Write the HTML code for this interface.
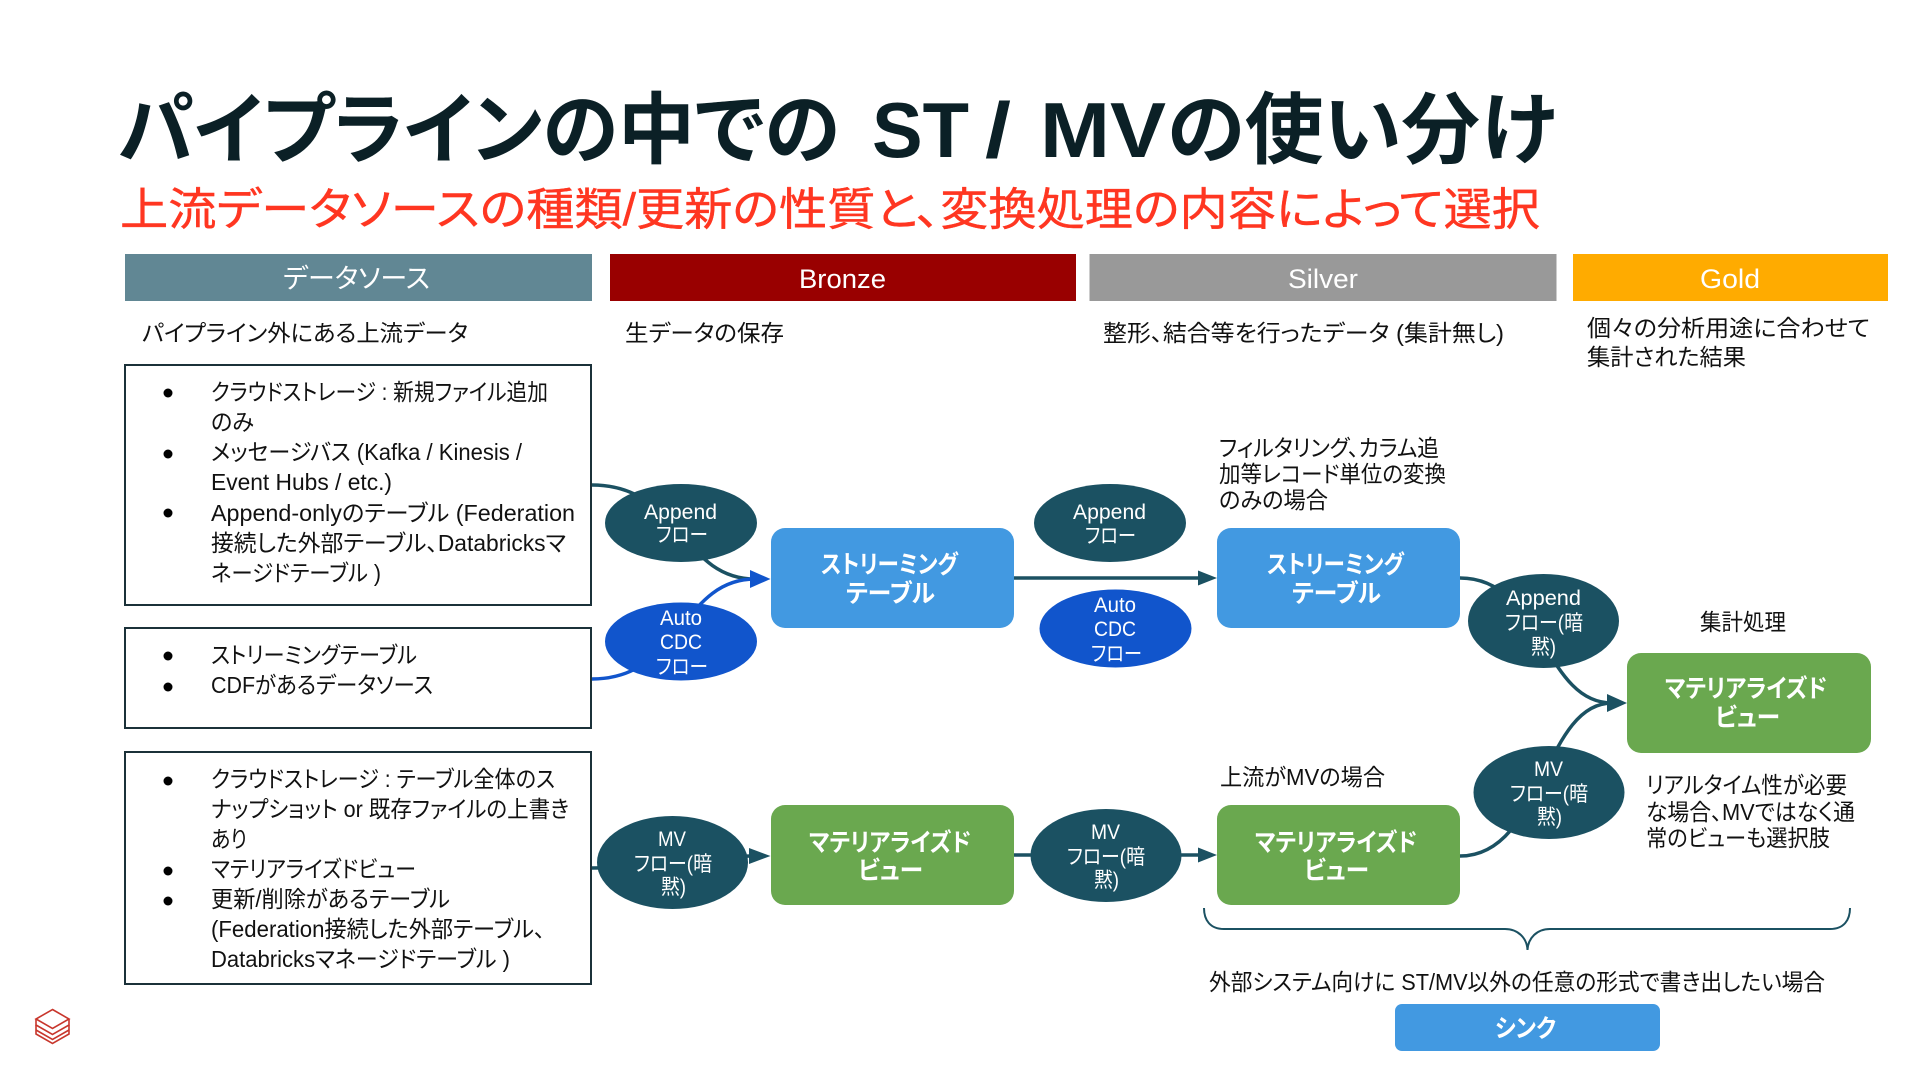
<!DOCTYPE html>
<html lang="ja"><head><meta charset="utf-8"><title>パイプラインの中での ST / MVの使い分け</title>
<style>
html,body{margin:0;padding:0;background:#fff;width:1918px;height:1080px;overflow:hidden}
svg{display:block}
text{font-family:"Liberation Sans","Noto Sans CJK JP",sans-serif;white-space:pre;font-feature-settings:"palt" 1}
.t{font-size:23px;fill:#111}
.h{font-size:27px;fill:#fff}
.e{font-size:21px;fill:#fff}
.b{font-size:25px;fill:#fff;font-weight:700}
.c{fill:none;stroke:#1b5162;stroke-width:3.5}
.box{fill:#fff;stroke:#1b3139;stroke-width:2}
</style></head><body>
<svg width="1918" height="1080" viewBox="0 0 1918 1080" xmlns="http://www.w3.org/2000/svg">
<rect width="1918" height="1080" fill="#fff"/>
<g font-size="78" font-weight="700" fill="#0b2026">
<text x="118" y="157" textLength="722" lengthAdjust="spacingAndGlyphs">パイプラインの中での</text>
<text x="872" y="157" textLength="97" lengthAdjust="spacingAndGlyphs">ST</text>
<text x="985" y="157" textLength="26" lengthAdjust="spacingAndGlyphs">/</text>
<text x="1040" y="157" textLength="126" lengthAdjust="spacingAndGlyphs">MV</text>
<text x="1167" y="157" textLength="389" lengthAdjust="spacingAndGlyphs">の使い分け</text>
</g>
<text x="120" y="225" font-size="45" fill="#ff3621" stroke="#ff3621" stroke-width=".4" textLength="1420" lengthAdjust="spacingAndGlyphs">上流データソースの種類/更新の性質と、変換処理の内容によって選択</text>

<rect x="125" y="254" width="467" height="47" fill="#618794"/>
<rect x="610" y="254" width="466" height="47" fill="#990000"/>
<rect x="1095" y="254" width="467" height="47" fill="#999999" transform="translate(-5.5 0)"/>
<rect x="1581" y="254" width="315" height="47" fill="#ffab00" transform="translate(-8 0)"/>
<text class="h" x="283" y="288" textLength="147" lengthAdjust="spacingAndGlyphs">データソース</text>
<text class="h" x="799" y="288" textLength="87" lengthAdjust="spacingAndGlyphs">Bronze</text>
<text class="h" x="1288" y="288" textLength="70" lengthAdjust="spacingAndGlyphs">Silver</text>
<text class="h" x="1700" y="288" textLength="60" lengthAdjust="spacingAndGlyphs">Gold</text>

<text class="t" x="142" y="341" textLength="326" lengthAdjust="spacingAndGlyphs">パイプライン外にある上流データ</text>
<text class="t" x="625" y="341" textLength="159" lengthAdjust="spacingAndGlyphs">生データの保存</text>
<text class="t" x="1103" y="341" textLength="401" lengthAdjust="spacingAndGlyphs">整形、結合等を行ったデータ (集計無し)</text>
<text class="t" x="1587" y="336" textLength="283" lengthAdjust="spacingAndGlyphs">個々の分析用途に合わせて</text>
<text class="t" x="1587" y="365" textLength="159" lengthAdjust="spacingAndGlyphs">集計された結果</text>

<!-- connectors -->
<path class="c" d="M592 485C681 485 681 579 755 579"/>
<path class="c" d="M592 679C681 679 681 579 755 579" style="stroke:#1155cc"/>
<path d="M770.5 579L750 570V588Z" fill="#1155cc"/>
<path class="c" d="M592 868C681 868 681 856 755 856"/>
<path d="M770.5 856L749 848V864Z" fill="#1b5162"/>
<path class="c" d="M1013 578H1200"/>
<path d="M1217 578L1198 570.5V585.5Z" fill="#1b5162"/>
<path class="c" d="M1013 855H1200"/>
<path d="M1217 855L1198 847.5V862.5Z" fill="#1b5162"/>
<path class="c" d="M1460 578C1543 578 1543 703 1612 703"/>
<path class="c" d="M1460 856C1543 856 1543 703 1612 703"/>
<path d="M1627 703L1607 694V712Z" fill="#1b5162"/>

<!-- source boxes -->
<rect class="box" x="125" y="365" width="466" height="240"/>
<rect class="box" x="125" y="633" width="466" height="100" transform="translate(0 -5)"/>
<rect class="box" x="125" y="758" width="466" height="232" transform="translate(0 -6)"/>

<g fill="#000">
<circle cx="168" cy="393" r="4.5"/><circle cx="168" cy="454" r="4.5"/><circle cx="168" cy="513" r="4.5"/>
<circle cx="168" cy="656" r="4.5"/><circle cx="168" cy="687" r="4.5"/>
<circle cx="168" cy="781" r="4.5"/><circle cx="168" cy="871" r="4.5"/><circle cx="168" cy="901" r="4.5"/>
</g>
<text class="t" x="211" y="400" textLength="337" lengthAdjust="spacingAndGlyphs">クラウドストレージ : 新規ファイル追加</text>
<text class="t" x="211" y="430" textLength="43" lengthAdjust="spacingAndGlyphs">のみ</text>
<text class="t" x="211" y="460" textLength="311" lengthAdjust="spacingAndGlyphs">メッセージバス (Kafka / Kinesis /</text>
<text class="t" x="211" y="490" textLength="181" lengthAdjust="spacingAndGlyphs">Event Hubs / etc.)</text>
<text class="t" x="211" y="521" textLength="364" lengthAdjust="spacingAndGlyphs">Append-onlyのテーブル (Federation</text>
<text class="t" x="211" y="551" textLength="355" lengthAdjust="spacingAndGlyphs">接続した外部テーブル、Databricksマ</text>
<text class="t" x="211" y="581" textLength="170" lengthAdjust="spacingAndGlyphs">ネージドテーブル )</text>
<text class="t" x="211" y="663" textLength="206" lengthAdjust="spacingAndGlyphs">ストリーミングテーブル</text>
<text class="t" x="211" y="693" textLength="222" lengthAdjust="spacingAndGlyphs">CDFがあるデータソース</text>
<text class="t" x="211" y="787" textLength="344" lengthAdjust="spacingAndGlyphs">クラウドストレージ : テーブル全体のス</text>
<text class="t" x="211" y="817" textLength="358" lengthAdjust="spacingAndGlyphs">ナップショット or 既存ファイルの上書き</text>
<text class="t" x="211" y="847" textLength="36" lengthAdjust="spacingAndGlyphs">あり</text>
<text class="t" x="211" y="877" textLength="205" lengthAdjust="spacingAndGlyphs">マテリアライズドビュー</text>
<text class="t" x="211" y="907" textLength="239" lengthAdjust="spacingAndGlyphs">更新/削除があるテーブル</text>
<text class="t" x="211" y="937" textLength="334" lengthAdjust="spacingAndGlyphs">(Federation接続した外部テーブル、</text>
<text class="t" x="211" y="967" textLength="299" lengthAdjust="spacingAndGlyphs">Databricksマネージドテーブル )</text>

<!-- main nodes -->
<rect x="771" y="528" width="243" height="100" rx="14" fill="#4299e1"/>
<rect x="1217" y="528" width="243" height="100" rx="14" fill="#4299e1"/>
<rect x="771" y="805" width="243" height="100" rx="14" fill="#6aa84f"/>
<rect x="1217" y="805" width="243" height="100" rx="14" fill="#6aa84f"/>
<rect x="1627" y="653" width="244" height="100" rx="14" fill="#6aa84f"/>
<rect x="1395" y="1004" width="265" height="47" rx="7" fill="#4299e1"/>

<text class="b" x="821" y="573" textLength="137" lengthAdjust="spacingAndGlyphs">ストリーミング</text>
<text class="b" x="846" y="602" textLength="89" lengthAdjust="spacingAndGlyphs">テーブル</text>
<text class="b" x="1267" y="573" textLength="137" lengthAdjust="spacingAndGlyphs">ストリーミング</text>
<text class="b" x="1292" y="602" textLength="89" lengthAdjust="spacingAndGlyphs">テーブル</text>
<text class="b" x="809" y="851" textLength="162" lengthAdjust="spacingAndGlyphs">マテリアライズド</text>
<text class="b" x="858" y="879" textLength="65" lengthAdjust="spacingAndGlyphs">ビュー</text>
<text class="b" x="1255" y="851" textLength="162" lengthAdjust="spacingAndGlyphs">マテリアライズド</text>
<text class="b" x="1304" y="879" textLength="65" lengthAdjust="spacingAndGlyphs">ビュー</text>
<text class="b" x="1665" y="697" textLength="162" lengthAdjust="spacingAndGlyphs">マテリアライズド</text>
<text class="b" x="1715" y="726" textLength="65" lengthAdjust="spacingAndGlyphs">ビュー</text>
<text class="b" x="1495" y="1037" textLength="61" lengthAdjust="spacingAndGlyphs">シンク</text>

<!-- ellipses -->
<g fill="#1b5162">
<ellipse cx="681" cy="523" rx="76" ry="39"/>
<ellipse cx="672.5" cy="862.5" rx="75.5" ry="46.5"/>
<ellipse cx="1110" cy="523" rx="76" ry="39"/>
<ellipse cx="1106" cy="855.5" rx="75.5" ry="46.5"/>
<ellipse cx="1543.5" cy="621" rx="75.5" ry="47"/>
<ellipse cx="1549" cy="792.5" rx="75.5" ry="46.5"/>
</g>
<g fill="#1155cc">
<ellipse cx="681" cy="641.5" rx="76" ry="39"/>
<ellipse cx="1115.5" cy="628.5" rx="76" ry="39"/>
</g>

<text class="e" x="644" y="519" textLength="73" lengthAdjust="spacingAndGlyphs">Append</text>
<text class="e" x="656" y="542" textLength="52" lengthAdjust="spacingAndGlyphs">フロー</text>
<text class="e" x="660" y="625" textLength="42" lengthAdjust="spacingAndGlyphs">Auto</text>
<text class="e" x="660" y="649" textLength="42" lengthAdjust="spacingAndGlyphs">CDC</text>
<text class="e" x="656" y="674" textLength="52" lengthAdjust="spacingAndGlyphs">フロー</text>
<text class="e" x="658" y="846" textLength="28" lengthAdjust="spacingAndGlyphs">MV</text>
<text class="e" x="634" y="871" textLength="78" lengthAdjust="spacingAndGlyphs">フロー(暗</text>
<text class="e" x="661" y="894" textLength="25" lengthAdjust="spacingAndGlyphs">黙)</text>
<text class="e" x="1073" y="519" textLength="73" lengthAdjust="spacingAndGlyphs">Append</text>
<text class="e" x="1085" y="543" textLength="51" lengthAdjust="spacingAndGlyphs">フロー</text>
<text class="e" x="1094" y="612" textLength="42" lengthAdjust="spacingAndGlyphs">Auto</text>
<text class="e" x="1094" y="636" textLength="42" lengthAdjust="spacingAndGlyphs">CDC</text>
<text class="e" x="1091" y="661" textLength="51" lengthAdjust="spacingAndGlyphs">フロー</text>
<text class="e" x="1091" y="839" textLength="29" lengthAdjust="spacingAndGlyphs">MV</text>
<text class="e" x="1067" y="864" textLength="78" lengthAdjust="spacingAndGlyphs">フロー(暗</text>
<text class="e" x="1094" y="887" textLength="25" lengthAdjust="spacingAndGlyphs">黙)</text>
<text class="e" x="1506" y="605" textLength="75" lengthAdjust="spacingAndGlyphs">Append</text>
<text class="e" x="1505" y="630" textLength="78" lengthAdjust="spacingAndGlyphs">フロー(暗</text>
<text class="e" x="1531" y="654" textLength="25" lengthAdjust="spacingAndGlyphs">黙)</text>
<text class="e" x="1534" y="776" textLength="29" lengthAdjust="spacingAndGlyphs">MV</text>
<text class="e" x="1510" y="801" textLength="78" lengthAdjust="spacingAndGlyphs">フロー(暗</text>
<text class="e" x="1537" y="824" textLength="25" lengthAdjust="spacingAndGlyphs">黙)</text>

<!-- annotations -->
<text class="t" x="1219" y="456" textLength="220" lengthAdjust="spacingAndGlyphs">フィルタリング、カラム追</text>
<text class="t" x="1219" y="482" textLength="227" lengthAdjust="spacingAndGlyphs">加等レコード単位の変換</text>
<text class="t" x="1219" y="508" textLength="109" lengthAdjust="spacingAndGlyphs">のみの場合</text>
<text class="t" x="1700" y="630" textLength="86" lengthAdjust="spacingAndGlyphs">集計処理</text>
<text class="t" x="1220" y="785" textLength="165" lengthAdjust="spacingAndGlyphs">上流がMVの場合</text>
<text class="t" x="1646" y="793" textLength="201" lengthAdjust="spacingAndGlyphs">リアルタイム性が必要</text>
<text class="t" x="1646" y="820" textLength="209" lengthAdjust="spacingAndGlyphs">な場合、MVではなく通</text>
<text class="t" x="1646" y="846" textLength="184" lengthAdjust="spacingAndGlyphs">常のビューも選択肢</text>
<text class="t" x="1209" y="990" textLength="616" lengthAdjust="spacingAndGlyphs">外部システム向けに ST/MV以外の任意の形式で書き出したい場合</text>

<!-- brace -->
<path d="M1204 908C1204 920 1210 929 1224 929H1505C1518 929 1527 938 1527.5 950C1528 938 1537 929 1550 929H1830C1844 929 1850 920 1850 908" fill="none" stroke="#1b5162" stroke-width="2"/>

<!-- logo -->
<g fill="none" stroke="#c8362c" stroke-width="1.6">
<path d="M52.5 1009.5L69 1019L52.5 1028.5L36 1019Z"/>
<path d="M36 1019V1025L52.5 1034.5L69 1025V1019"/>
<path d="M36 1025V1034L52.5 1043.5L69 1034V1025"/>
<path d="M36 1030L52.5 1039.5L69 1030"/>
</g>
</svg>
</body></html>
